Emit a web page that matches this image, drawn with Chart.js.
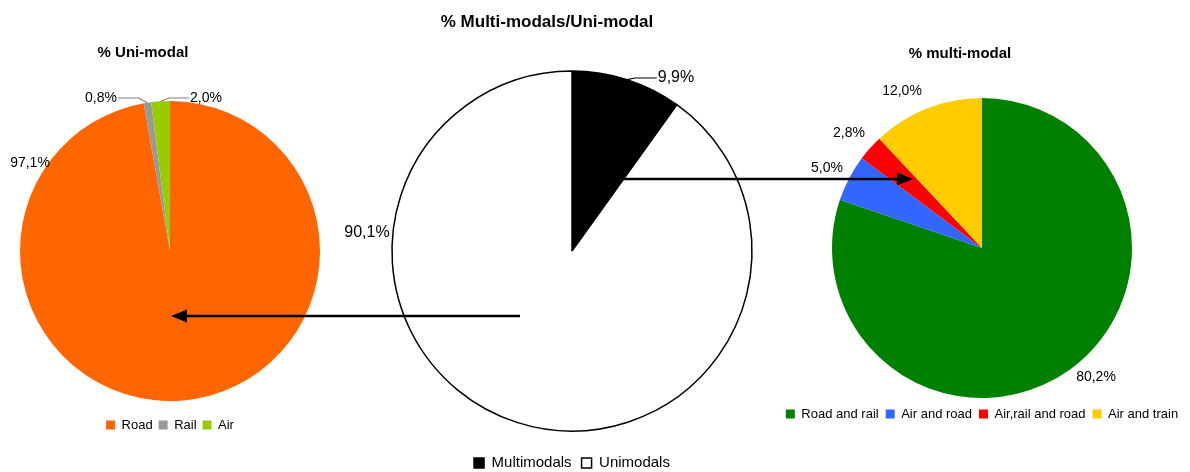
<!DOCTYPE html>
<html><head><meta charset="utf-8">
<script src="https://cdn.jsdelivr.net/npm/chart.js@4.4.0/dist/chart.umd.min.js"></script>
<style>
html,body{margin:0;padding:0;background:#fff;width:1190px;height:472px;overflow:hidden}
canvas{position:absolute;left:0;top:0}
</style></head><body>
<canvas id="uni" width="1190" height="472"></canvas>
<canvas id="multi" width="1190" height="472"></canvas>
<canvas id="split" width="1190" height="472"></canvas>
<script>
// ---- data ----
const uniCategories = ['Road', 'Rail', 'Air'];
const uniValues = [97.1, 0.8, 2.0];
const splitCategories = ['Multimodals', 'Unimodals'];
const splitValues = [9.9, 90.1];
const multiCategories = ['Road and rail', 'Air and road', 'Air,rail and road', 'Air and train'];
const multiValues = [80.2, 5.0, 2.8, 12.0];

const uniTitle = '% Uni-modal';
const splitTitle = '% Multi-modals/Uni-modal';
const multiTitle = '% multi-modal';

// ---- styles ----
const uniColors = ['#FF6600', '#999999', '#99CC00'];
const splitColors = ['#000000', '#FFFFFF'];
const multiColors = ['#008000', '#3366FF', '#FF0000', '#FFCC00'];

const FONT = '"Liberation Sans", Arial, sans-serif';
Chart.defaults.font.family = FONT;
Chart.defaults.color = '#000';

function fmt(v) { return v.toFixed(1).replace('.', ',') + '%'; }

function annotPlugin(cfg) {
  return {
    id: 'annot',
    afterDraw(chart) {
      const ctx = chart.ctx;
      const arcs = chart.getDatasetMeta(0).data;
      const values = chart.data.datasets[0].data;
      ctx.save();
      ctx.fillStyle = '#000';
      ctx.textAlign = 'center';
      ctx.textBaseline = 'middle';
      ctx.font = 'bold ' + cfg.titleSize + 'px ' + FONT;
      ctx.fillText(cfg.title, cfg.titleX, cfg.titleY);
      ctx.font = cfg.labelSize + 'px ' + FONT;
      arcs.forEach((arc, i) => {
        const off = cfg.labelOffsets[i];
        const lx = arc.x + off[0], ly = arc.y + off[1];
        const txt = fmt(values[i]);
        ctx.fillStyle = '#000';
        ctx.fillText(txt, lx, ly);
        const side = cfg.leaders ? cfg.leaders[i] : null;
        if (side) {
          const mid = (arc.startAngle + arc.endAngle) / 2;
          const ex = arc.x + Math.cos(mid) * arc.outerRadius;
          const ey = arc.y + Math.sin(mid) * arc.outerRadius;
          const w = ctx.measureText(txt).width;
          const tx = side === 'textLeft' ? lx + w / 2 + 1 : lx - w / 2 - 1;
          const dir = side === 'textLeft' ? -1 : 1;
          const elbowX = ex + dir * cfg.elbow;
          ctx.strokeStyle = cfg.leaderColor;
          ctx.lineWidth = 1.2;
          ctx.beginPath();
          ctx.moveTo(ex, ey);
          ctx.lineTo(elbowX, ly);
          ctx.lineTo(tx, ly);
          ctx.stroke();
        }
      });
      if (cfg.arrows) {
        cfg.arrows.forEach(a => {
          const dir = Math.sign(a.to[0] - a.from[0]);
          ctx.strokeStyle = '#000';
          ctx.lineWidth = 2.5;
          ctx.beginPath();
          ctx.moveTo(a.from[0], a.from[1]);
          ctx.lineTo(a.to[0] - dir * 12, a.to[1]);
          ctx.stroke();
          ctx.fillStyle = '#000';
          ctx.beginPath();
          ctx.moveTo(a.to[0], a.to[1]);
          ctx.lineTo(a.to[0] - dir * 16, a.to[1] - 6.5);
          ctx.lineTo(a.to[0] - dir * 16, a.to[1] + 6.5);
          ctx.closePath();
          ctx.fill();
        });
      }
      ctx.restore();
    }
  };
}

function makePie(id, labels, values, colors, ds, padding, legendLabels, annot) {
  return new Chart(document.getElementById(id), {
    type: 'pie',
    data: {
      labels: labels,
      datasets: [Object.assign({ data: values, backgroundColor: colors }, ds)]
    },
    options: {
      responsive: false,
      animation: false,
      events: [],
      layout: { padding: padding },
      plugins: {
        legend: { position: 'bottom', labels: legendLabels },
        tooltip: { enabled: false },
        title: { display: false }
      }
    },
    plugins: [annotPlugin(annot)]
  });
}

makePie('uni', uniCategories, uniValues, uniColors,
  { borderWidth: 0, radius: 150 },
  { left: 0, right: 850, top: 89.5, bottom: 30.5 },
  { font: { size: 13 }, boxWidth: 9, boxHeight: 9, padding: 6, color: '#000' },
  { title: uniTitle, titleX: 143, titleY: 53, titleSize: 15, labelSize: 14,
    labelOffsets: [[-140, -88], [-69, -153], [36, -153]],
    leaders: [null, 'textLeft', 'textRight'], elbow: 9, leaderColor: '#808080' });

makePie('multi', multiCategories, multiValues, multiColors,
  { borderWidth: 0, radius: 150 },
  { left: 777, right: 3, top: 95.5, bottom: 41.5 },
  { font: { size: 13 }, boxWidth: 9, boxHeight: 9, padding: 7, color: '#000' },
  { title: multiTitle, titleX: 960, titleY: 54, titleSize: 15, labelSize: 14,
    labelOffsets: [[114, 129], [-155, -80], [-133, -115], [-80, -157]] });

makePie('split', splitCategories, splitValues, splitColors,
  { borderWidth: 1.5, borderColor: '#000', radius: 180 },
  { left: 372, right: 418, top: 56.5, bottom: -8.5 },
  { font: { size: 15 }, boxWidth: 10, boxHeight: 10, padding: 10, color: '#000' },
  { title: splitTitle, titleX: 547, titleY: 22, titleSize: 17, labelSize: 16,
    labelOffsets: [[104, -173], [-205, -18]],
    leaders: ['textRight', null], elbow: 8, leaderColor: '#000',
    arrows: [{ from: [623, 179], to: [913, 179] }, { from: [520, 316], to: [171, 316] }] });
</script>
</body></html>
